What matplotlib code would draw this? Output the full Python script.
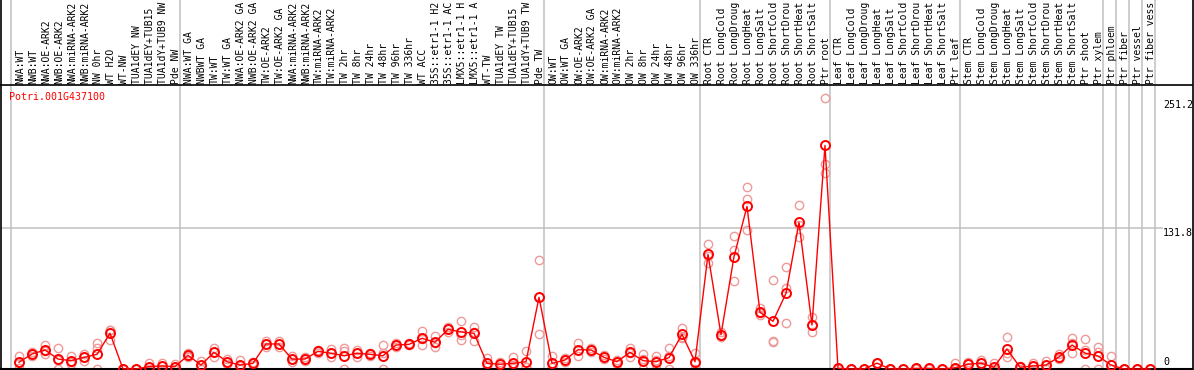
import numpy as np
import matplotlib
matplotlib.use("Agg")
import matplotlib.pyplot as plt
from matplotlib.lines import Line2D
from matplotlib.transforms import blended_transform_factory

gene = "Potri.001G437100"

labels = [
    # group 1
    "NWA:WT", "NWB:WT", "NWA:OE-ARK2", "NWB:OE-ARK2", "NWA:miRNA-ARK2", "NWB:miRNA-ARK2",
    "NW 0hr", "WT H2O", "WT-NW", "TUA1dEY NW", "TUA1dEY+TUB15 NW", "TUA1dY+TUB9 NW", "Pde NW",
    # group 2
    "NWA:WT GA", "NWBWT GA", "TW:WT", "TW:WT GA", "NWA:OE-ARK2 GA", "NWB:OE-ARK2 GA",
    "TW:OE-ARK2", "TW:OE-ARK2 GA", "NWA:miRNA-ARK2 GA", "NWB:miRNA-ARK2 GA", "TW:miRNA-ARK2",
    "TW:miRNA-ARK2 GA", "TW 2hr", "TW 8hr", "TW 24hr", "TW 48hr", "TW 96hr", "TW 336hr",
    "WT ACC", "35S::etr1-1 H2O", "35S::etr1-1 ACC", "LMX5::etr1-1 H2O", "LMX5::etr1-1 ACC",
    "WT-TW", "TUA1dEY TW", "TUA1dEY+TUB15 TW", "TUA1dY+TUB9 TW", "Pde TW",
    # group 3
    "OW:WT", "OW:WT GA", "OW:OE-ARK2", "OW:OE-ARK2 GA", "OW:miRNA-ARK2", "OW:miRNA-ARK2 GA",
    "OW 2hr", "OW 8hr", "OW 24hr", "OW 48hr", "OW 96hr", "OW 336hr",
    # root
    "Root CTR", "Root LongCold", "Root LongDrought", "Root LongHeat", "Root LongSalt",
    "Root ShortCold", "Root ShortDrought", "Root ShortHeat", "Root ShortSalt", "Ptr root",
    # leaf
    "Leaf CTR", "Leaf LongCold", "Leaf LongDrought", "Leaf LongHeat", "Leaf LongSalt",
    "Leaf ShortCold", "Leaf ShortDrought", "Leaf ShortHeat", "Leaf ShortSalt", "Ptr leaf",
    # stem
    "Stem CTR", "Stem LongCold", "Stem LongDrought", "Stem LongHeat", "Stem LongSalt",
    "Stem ShortCold", "Stem ShortDrought", "Stem ShortHeat", "Stem ShortSalt", "Ptr shoot",
    "Ptr xylem", "Ptr phloem", "Ptr fiber", "Ptr vessel", "Ptr fiber vessel",
]

means = [
    6.3, 14, 17.8, 9.3, 7.8, 10.9, 13.7, 33.4, 0, 0, 2.2, 2.8, 2.2,
    12.8, 3.7, 15.6, 6.8, 3.7, 5.3, 23.4, 23.4, 9.2, 9.3, 16.5, 14.7, 12.4, 14.7,
    13.7, 12.4, 22.4, 23, 28.7, 25, 37.1, 34.6, 33.4, 5.3, 4.4, 5.3, 6.8, 67,
    5.3, 8.4, 18, 17.8, 10.9, 6.8, 15.6, 7.8, 6.8, 10.6, 32.4, 6.8,
    107.2, 32.1, 105, 152, 53, 44.6, 70.8, 137, 41.1, 209,
    0.6, 0, 0, 5.5, 0, 0, 0.6, 0.6, 0, 1.0,
    4.4, 5.5, 1.6, 18.7, 1.6, 2.8, 3.7, 11.2, 22.4, 14.9,
    12.2, 3.7, 0, 0, 0,
]

reps = [
    [12, 0.6, 6], [12, 16, 14], [22.4, 14, 17], [19.6, 0, 8], [12, 4.7, 7],
    [14, 7.8, 11], [24.6, 20, 0], [36.4, 27, 36], [0, 0, 0], [0, 0, 0],
    [5.3, 0, 1.5], [5.3, 3, 0], [4.7, 0, 2],
    [15.2, 11, 12], [7.5, 0, 3.6], [19.9, 10.9, 16], [9, 4.7, 6.8], [8.4, 0, 2.7],
    [6.5, 4, 5.3], [26.5, 21, 23], [26.5, 21, 23], [12, 6.3, 9.3], [11, 7.5, 9.3],
    [16.5, 15, 18], [18.7, 10.9, 14.5], [19.3, 17, 0], [17.8, 11.5, 14.7],
    [15, 12.5, 13.7], [22.4, 0, 14.8], [22.4, 21, 24], [23, 22, 24],
    [35.8, 22.4, 28], [30.8, 20.3, 24], [39.5, 34.9, 37], [45, 27, 32],
    [39.5, 26.2, 34.5], [10, 2, 4], [6.5, 2.4, 4.4], [11.2, 0.6, 4],
    [17, 2, 1.5], [101.6, 32.7, 67],
    [12, 2, 2], [8.4, 7, 10], [24, 12, 18], [17.8, 16, 19.5], [10.9, 9, 12.8],
    [4.7, 7, 8.7], [19.9, 11.5, 15.4], [14, 0, 9.4], [12, 0, 8.4], [19.9, 0, 12],
    [38, 30, 29], [14.7, 0, 5.7],
    [116.6, 99.4, 105.6], [34.9, 30, 31.5], [124.3, 111.2, 82.3], [170, 159, 130],
    [56.7, 50.5, 52], [82.9, 26.5, 25], [95, 75.4, 42.7], [153, 123, 135],
    [48.3, 34.3, 41], [253, 191.6, 183],
    [0.9, 0.5, 0.4], [0, 0, 0], [0, 0, 0], [5.9, 5.3, 5.3], [0, 0, 0], [0, 0, 0],
    [1.2, 0.6, 0], [1.2, 0.6, 0], [0, 0, 0], [5.3, 0, 0],
    [6.5, 4.4, 2.3], [8.4, 5.3, 2.8], [5.3, 0, 0], [30.2, 10.9, 15], [3, 1.6, 0.2],
    [5.9, 2.5, 0], [7.8, 3.3, 0], [14, 9.7, 10], [28.7, 14.7, 24], [27.8, 17.8, 0],
    [20.8, 0, 16], [12, 0, 0], [0, 0, 0], [0, 0, 0], [0, 0, 0],
]

# last sample index of each block (grey separators drawn just after these)
block_ends = [-1, 12, 40, 52, 62, 72, 83, 84, 85, 86, 87]
ytick_vals = [0, 131.8, 251.2]

# header only has room for 14 characters, the original chart cuts the rest
max_chars = 14

W, H = 1194, 370
fig = plt.figure(figsize=(W / 100, H / 100), dpi=100)
fig.patch.set_facecolor("white")

# plot area: x from px 1 to 1192, y from px 85 (top) to 369 (bottom)
ax = fig.add_axes([1 / W, 1 / H, 1191 / W, 284 / H])
ax.set_xlim((1 - 19) / 13, (1192 - 19) / 13)
ax.set_ylim(0, 265.5)
ax.set_xticks([])
ax.set_yticks([])
for s in ["left", "right"]:
    ax.spines[s].set_visible(False)
ax.spines["top"].set_linewidth(1.2)
ax.spines["bottom"].set_linewidth(1.5)

mono = "DejaVu Sans Mono"
grey = "#c0c0c0"

# group separators, spanning header too
top_ext = 1 + 85 / 284
for e in block_ends:
    ax.axvline(e + 5 / 13, ymin=0, ymax=top_ext, color=grey, lw=1.1, clip_on=False, zorder=1)
ax.axhline(ytick_vals[1], xmin=0, xmax=(1162 - 1) / 1191, color=grey, lw=1.1, zorder=1)

x = np.arange(len(means))
reps_arr = np.array(reps)
for k in range(reps_arr.shape[1]):
    ax.plot(x, reps_arr[:, k], ls="none", marker="o", ms=6, mfc="none",
            mec="#ee9a9a", mew=1.0, clip_on=False, zorder=2)
ax.plot(x, means, color="red", lw=1.0, clip_on=False, zorder=3)
ax.plot(x, means, ls="none", marker="o", ms=6.5, mfc="none", mec="red",
        mew=1.4, clip_on=False, zorder=4)

# sample labels in the header
lab_tr = blended_transform_factory(ax.transData, fig.transFigure)
for i, lab in enumerate(labels):
    ax.text(i + 0.08, (H - 83.5) / H, lab[:max_chars], transform=lab_tr, rotation=90,
            ha="center", va="bottom", fontsize=7.0, family=mono, color="black")

# gene name
fig.text(9 / W, (H - 97) / H, gene, color="red", fontsize=7.2, family=mono,
         ha="left", va="center")

# y value labels on the right
yl_tr = blended_transform_factory(fig.transFigure, ax.transData)
ax.text(1163 / W, ytick_vals[2], "251.2", transform=yl_tr, ha="left", va="top",
        fontsize=7.2, family=mono)
ax.text(1163 / W, ytick_vals[1], "131.8", transform=yl_tr, ha="left", va="top",
        fontsize=7.2, family=mono)
ax.text(1163 / W, ytick_vals[0] + 1.5, "0", transform=yl_tr, ha="left", va="bottom",
        fontsize=7.2, family=mono)

# outer borders (left and right, full height)
fig.add_artist(Line2D([1 / W, 1 / W], [0, 1], transform=fig.transFigure, color="black", lw=1.2))
fig.add_artist(Line2D([1192.5 / W, 1192.5 / W], [0, 1], transform=fig.transFigure, color="black", lw=1.2))

fig.savefig("out.png", dpi=100, facecolor="white")
